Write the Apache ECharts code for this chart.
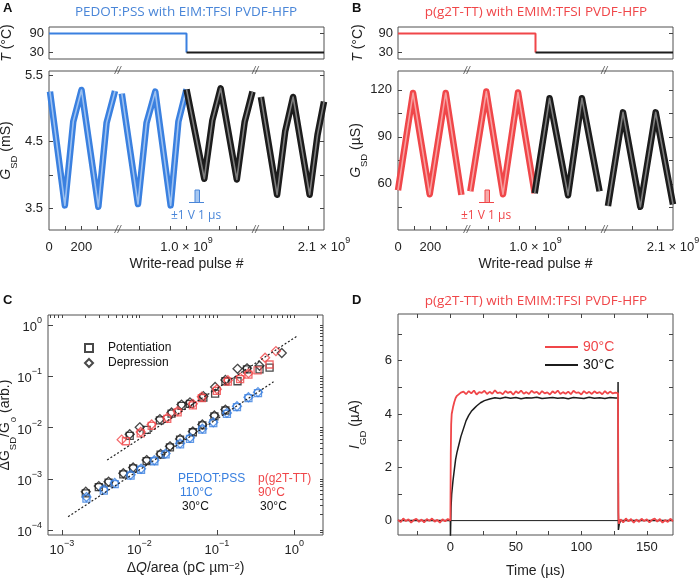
<!DOCTYPE html>
<html>
<head>
<meta charset="utf-8">
<title>Figure</title>
<script src="https://cdn.jsdelivr.net/npm/echarts@6.0.0/dist/echarts.min.js"></script>
<style>
html,body{margin:0;padding:0;background:#fff;}
#chart{width:700px;height:583px;}
</style>
</head>
<body>
<div id="chart"></div>
<script>
// ---------- shared pulse axis for A and B (850 = 1.0e9 pulses, 1700 = 2.1e9 pulses) ----------
const pulseLabelPos = [0, 200, 850, 1700];
const pulseLabelText = ['0', '200', '1.0 × 10^9', '2.1 × 10^9'];
const pulseTickPos = [100, 200, 300, 560, 750, 850, 1050, 1160, 1450, 1600];
const breakPos = [425, 1275];

// ---------- Panel A : PEDOT:PSS ----------
const tempA_hot = [[0, 90], [850, 90], [850, 30]];
const tempA_cold = [[850, 30], [1700, 30]];
const gA_hot_1 = [[6,5.25],[98,3.54],[150,4.80],[201,5.275],[305,3.52],[356,4.78],[408,5.26]];
const gA_hot_2 = [[450,5.22],[550,3.56],[603,4.78],[657,5.25],[752,3.54],[800,4.80],[850,5.285]];
const gA_cold_1 = [[850,5.285],[960,3.94],[1010,4.82],[1061,5.3],[1161,3.93],[1210,4.8],[1258,5.25]];
const gA_cold_2 = [[1310,5.17],[1410,3.7],[1460,4.65],[1509,5.17],[1611,3.7],[1660,4.6],[1700,5.1]];

// ---------- Panel B : p(g2T-TT) ----------
const tempB_hot = [[0, 90], [850, 90], [850, 30]];
const tempB_cold = [[850, 30], [1700, 30]];
const gB_hot_1 = [[0,56],[93,118],[196,53.4],[295,118],[392,53]];
const gB_hot_2 = [[447,55.3],[546,118.9],[649,53.4],[742,118.3],[845,54]];
const gB_cold_1 = [[845,54],[937,114.6],[1051,52.8],[1137,114.6],[1246,55.3]];
const gB_cold_2 = [[1298,45.9],[1391,105.6],[1498,45.4],[1593,105.6],[1700,47]];

// ---------- Panel C : dG/G0 vs dQ/area ----------
const cMajorX = [0.001, 0.01, 0.1, 1];
const cMinorX = [0.0007,0.0008,0.0009,0.002,0.003,0.004,0.005,0.006,0.007,0.008,0.009,
  0.02,0.03,0.04,0.05,0.06,0.07,0.08,0.09,0.2,0.3,0.4,0.5,0.6,0.7,0.8,0.9,2];
const cMajorY = [0.0001, 0.001, 0.01, 0.1, 1];
const cMinorY = [0.00009,0.0002,0.0003,0.0004,0.0005,0.0006,0.0007,0.0008,0.0009,
  0.002,0.003,0.004,0.005,0.006,0.007,0.008,0.009,0.02,0.03,0.04,0.05,0.06,0.07,0.08,0.09,
  0.2,0.3,0.4,0.5,0.6,0.7,0.8,0.9];
const pedot30Pot = [[0.00203,0.00052],[0.00299,0.00069],[0.0040,0.00084],[0.0062,0.00122],[0.0083,0.0016],
  [0.0124,0.00222],[0.0188,0.00296],[0.0248,0.0041],[0.0335,0.0058],[0.049,0.0081],[0.065,0.011],[0.093,0.0165],[0.129,0.0215]];
const pedot30Dep = [[0.00203,0.00056],[0.00299,0.00072],[0.0040,0.00088],[0.0062,0.00128],[0.0083,0.00166],
  [0.0124,0.00232],[0.0188,0.00306],[0.0248,0.0043],[0.0335,0.006],[0.049,0.0084],[0.065,0.0115],[0.093,0.0172],[0.129,0.0224]];
const pedot110Pot = [[0.00207,0.00041],[0.00347,0.00059],[0.0048,0.00079],[0.0077,0.00115],[0.0105,0.0015],
  [0.0156,0.0022],[0.0218,0.003],[0.0335,0.0047],[0.045,0.006],[0.065,0.0091],[0.090,0.0122],[0.135,0.0185],
  [0.182,0.025],[0.256,0.0375],[0.34,0.047]];
const pedot110Dep = [[0.00207,0.00044],[0.00347,0.00062],[0.0048,0.00083],[0.0077,0.0012],[0.0105,0.00157],
  [0.0156,0.0023],[0.0218,0.0031],[0.0335,0.0049],[0.045,0.0063],[0.065,0.0095],[0.090,0.0127],[0.135,0.0193],
  [0.182,0.026],[0.256,0.039],[0.34,0.049]];
const pg90Pot = [[0.0067,0.0054],[0.0104,0.0077],[0.0144,0.0108],[0.0229,0.0148],[0.0312,0.0198],[0.049,0.027],
  [0.064,0.0375],[0.100,0.052],[0.139,0.079],[0.200,0.088],[0.256,0.108],[0.336,0.131],[0.48,0.17]];
const pg90Dep = [[0.0059,0.0058],[0.0104,0.0082],[0.0144,0.0115],[0.0229,0.0155],[0.0312,0.021],[0.049,0.029],
  [0.064,0.040],[0.100,0.056],[0.139,0.084],[0.200,0.094],[0.256,0.115],[0.42,0.23],[0.58,0.31]];
const pg30Pot = [[0.0075,0.0069],[0.0124,0.0090],[0.0184,0.0138],[0.026,0.0187],[0.035,0.0265],[0.045,0.029],
  [0.067,0.0385],[0.095,0.046],[0.129,0.080],[0.185,0.080],[0.245,0.136],[0.356,0.137],[0.48,0.147]];
const pg30Dep = [[0.0075,0.0074],[0.0101,0.0101],[0.0184,0.0146],[0.026,0.0197],[0.035,0.028],[0.045,0.031],
  [0.067,0.041],[0.095,0.062],[0.129,0.085],[0.185,0.14],[0.245,0.143],[0.356,0.16],[0.69,0.285]];
const fitLow = [[0.0012,0.000182],[0.54,0.078]];
const fitHigh = [[0.00383,0.00232],[1.09,0.61]];

// ---------- Panel D : I_GD vs time ----------
const dTickX = [-25,0,25,50,75,100,125,150];
const dLabelX = [0,50,100,150];
const dTickY = [0,1,2,3,4,5,6,7];
const dLabelY = [0,2,4,6];
const trace90 = [[-40,0.03],[-38,-0.06],[-36,0.08],[-34,-0.02],[-32,0.05],[-30,-0.08],[-28,0.02],[-26,0.07],[-24,-0.05],[-22,0.04],
  [-20,-0.07],[-18,0.06],[-16,-0.01],[-14,0.08],[-12,-0.04],[-10,0.03],[-8,-0.08],[-6,0.05],[-4,-0.03],[-2,0.06],
  [0,0.0],[0.3,2.5],[0.6,3.6],[1,4.0],[2,4.25],[3,4.45],[4,4.6],[5,4.68],[6,4.72],[8,4.8],
  [10,4.84],[12,4.74],[14,4.86],[16,4.77],[18,4.88],[20,4.73],[22,4.82],[24,4.79],[26,4.87],[28,4.75],
  [30,4.83],[32,4.76],[34,4.89],[36,4.78],[38,4.81],[40,4.74],[42,4.86],[44,4.79],[46,4.84],[48,4.72],
  [50,4.85],[52,4.78],[54,4.88],[56,4.76],[58,4.82],[60,4.75],[62,4.87],[64,4.79],[66,4.83],[68,4.74],
  [70,4.86],[72,4.77],[74,4.81],[76,4.73],[78,4.85],[80,4.78],[82,4.88],[84,4.75],[86,4.82],[88,4.76],
  [90,4.84],[92,4.74],[94,4.87],[96,4.79],[98,4.81],[100,4.73],[102,4.86],[104,4.77],[106,4.83],[108,4.75],
  [110,4.85],[112,4.78],[114,4.82],[116,4.74],[118,4.86],[120,4.76],[122,4.84],[124,4.77],[126,4.80],
  [128,4.78],[128.3,0.3],[128.6,-0.12],
  [130,0.05],[132,-0.07],[134,0.08],[136,-0.03],[138,0.06],[140,-0.08],[142,0.04],[144,-0.05],[146,0.07],[148,-0.02],
  [150,0.05],[152,-0.07],[154,0.03],[156,0.08],[158,-0.04],[160,0.06],[162,-0.08],[164,0.02],[166,-0.05],[168,0.07],[170,-0.03]];
const trace30 = [[-40,0],[0,0],[0.05,-0.6],[0.5,0.5],[1,1.0],[2,1.5],[3,1.9],[4,2.3],[5,2.55],[6,2.75],[7,2.95],[8,3.15],
  [10,3.45],[12,3.75],[14,3.95],[16,4.1],[18,4.2],[20,4.3],[23,4.42],[26,4.5],[30,4.56],
  [34,4.61],[38,4.58],[42,4.63],[46,4.59],[50,4.62],[54,4.57],[58,4.61],[62,4.6],[66,4.63],[70,4.58],
  [74,4.6],[78,4.62],[82,4.59],[86,4.61],[90,4.57],[94,4.62],[98,4.6],[102,4.58],[106,4.63],[110,4.59],
  [114,4.61],[118,4.58],[122,4.62],[126,4.6],[128,4.6],[128.05,5.2],[128.3,-0.35],[129,-0.12],[130,0],[170,0]];
const zeroRef = [[0,0],[128,0]];

// ---------- styling ----------
const FONT = 'Liberation Sans, Arial, sans-serif';
const TFONT = 'Open Sans, Noto Sans, sans-serif';
const BLUE = '#3a80e0', BLUE_L = '#a7c8f2', BLUE_T = '#4a86d8';
const RED = '#f04649', RED_L = '#f7aaaa';
const BLK = '#1c1c1c', BLK_L = '#8a8a8a';
const AX = '#444';

const RICH = {
  n: {fontSize: 13, fontFamily: FONT, color: '#222', lineHeight: 18, verticalAlign: 'bottom'},
  sup: {fontSize: 9, fontFamily: FONT, color: '#222', verticalAlign: 'top'},
};
const NRICH = {
  n: {fontSize: 14, fontFamily: FONT, color: '#222', lineHeight: 20, verticalAlign: 'top'},
  i: {fontSize: 14, fontFamily: FONT, fontStyle: 'italic', color: '#222', lineHeight: 20, verticalAlign: 'top'},
  sub: {fontSize: 9.5, fontFamily: FONT, color: '#222', verticalAlign: 'bottom'},
  sup: {fontSize: 9.5, fontFamily: FONT, color: '#222', verticalAlign: 'top'},
};
function supFmt(s) {
  const k = s.indexOf('^');
  return k < 0 ? '{n|' + s + '}' : '{n|' + s.slice(0, k) + '}{sup|' + s.slice(k + 1) + '}';
}
function pulseFmt(v) {
  const i = pulseLabelPos.indexOf(v);
  return i < 0 ? '' : supFmt(pulseLabelText[i]);
}
function logFmt(v) {
  const e = Math.round(Math.log10(v));
  return '{n|10}{sup|' + (e < 0 ? '\u2212' + (-e) : String(e)) + '}';
}
const noLine = {show: false, onZero: false};
function tick(vals, len) {
  return {show: true, inside: true, length: len || 4, customValues: vals, lineStyle: {color: AX, width: 1}};
}

function gridBox(left, top, width, height) {
  return {left, top, width, height, show: true, borderColor: '#505050', borderWidth: 1,
    backgroundColor: 'transparent', containLabel: false, outerBoundsMode: 'none'};
}

const xAxes = [
  // 0 A-T
  {gridIndex: 0, type: 'value', min: 0, max: 1700, axisLine: noLine, axisTick: {show: false}, axisLabel: {show: false}, splitLine: {show: false}},
  // 1 A-G
  {gridIndex: 1, type: 'value', min: 0, max: 1700, axisLine: noLine, splitLine: {show: false},
    axisTick: tick(pulseTickPos),
    axisLabel: {customValues: pulseLabelPos, formatter: pulseFmt, rich: RICH, margin: 6},
    name: 'Write-read pulse #', nameLocation: 'middle', nameGap: 27, nameMoveOverlap: false,
    nameTextStyle: {fontFamily: FONT, fontSize: 14, color: '#222'}},
  // 2 B-T
  {gridIndex: 2, type: 'value', min: 0, max: 1700, axisLine: noLine, axisTick: {show: false}, axisLabel: {show: false}, splitLine: {show: false}},
  // 3 B-G
  {gridIndex: 3, type: 'value', min: 0, max: 1700, axisLine: noLine, splitLine: {show: false},
    axisTick: tick(pulseTickPos),
    axisLabel: {customValues: pulseLabelPos, formatter: pulseFmt, rich: RICH, margin: 6},
    name: 'Write-read pulse #', nameLocation: 'middle', nameGap: 27, nameMoveOverlap: false,
    nameTextStyle: {fontFamily: FONT, fontSize: 14, color: '#222'}},
  // 4 C bottom major
  {gridIndex: 4, type: 'log', logBase: 10, min: 0.00066, max: 2.35, axisLine: noLine, splitLine: {show: false},
    axisTick: tick(cMajorX, 5), axisLabel: {customValues: cMajorX, formatter: logFmt, rich: RICH, margin: 4},
    name: '{n|\u0394}{i|Q}{n|/area (pC \u00b5m}{sup|\u22122}{n|)}', nameLocation: 'middle', nameGap: 26, nameMoveOverlap: false,
    nameTextStyle: {rich: NRICH}},
  // 5 C bottom minor
  {gridIndex: 4, type: 'log', logBase: 10, min: 0.00066, max: 2.35, axisLine: noLine, splitLine: {show: false},
    axisTick: tick(cMinorX, 2.5), axisLabel: {show: false}},
  // 6 C top
  {gridIndex: 4, type: 'log', logBase: 10, position: 'top', min: 0.00066, max: 2.35, axisLine: noLine, splitLine: {show: false},
    axisTick: tick(cMajorX.concat(cMinorX), 3), axisLabel: {show: false}},
  // 7 D bottom
  {gridIndex: 5, type: 'value', min: -40, max: 170, axisLine: noLine, splitLine: {show: false},
    axisTick: tick(dTickX), axisLabel: {customValues: dLabelX, fontFamily: FONT, fontSize: 13, color: '#222', margin: 6},
    name: 'Time (\u00b5s)', nameLocation: 'middle', nameGap: 29, nameMoveOverlap: false,
    nameTextStyle: {fontFamily: FONT, fontSize: 14, color: '#222'}},
  // 8 D top
  {gridIndex: 5, type: 'value', position: 'top', min: -40, max: 170, axisLine: noLine, splitLine: {show: false},
    axisTick: tick(dTickX), axisLabel: {show: false}},
];

const tLabelColorA = v => (v === 90 ? BLUE : '#222');
const tLabelColorB = v => (v === 90 ? RED : '#222');

const yAxes = [
  // 0 A-T left
  {gridIndex: 0, type: 'value', min: 9, max: 111, axisLine: noLine, splitLine: {show: false},
    axisTick: tick([30, 90]), axisLabel: {customValues: [30, 90], color: tLabelColorA, fontFamily: FONT, fontSize: 13, margin: 5},
    name: '{i|T}{n| (\u00b0C)}', nameLocation: 'middle', nameGap: 29, nameMoveOverlap: false, nameTextStyle: {rich: NRICH}},
  // 1 A-T right
  {gridIndex: 0, type: 'value', position: 'right', min: 9, max: 111, axisLine: noLine, splitLine: {show: false},
    axisTick: tick([30, 90]), axisLabel: {show: false}},
  // 2 A-G left
  {gridIndex: 1, type: 'value', min: 3.17, max: 5.56, axisLine: noLine, splitLine: {show: false},
    axisTick: tick([3.5, 4, 4.5, 5, 5.5]), axisLabel: {customValues: [3.5, 4.5, 5.5], fontFamily: FONT, fontSize: 13, color: '#222', margin: 6},
    name: '{i|G}{sub|SD}{n| (mS)}', nameLocation: 'middle', nameGap: 30, nameMoveOverlap: false, nameTextStyle: {rich: NRICH}},
  // 3 A-G right
  {gridIndex: 1, type: 'value', position: 'right', min: 3.17, max: 5.56, axisLine: noLine, splitLine: {show: false},
    axisTick: tick([3.5, 4, 4.5, 5, 5.5]), axisLabel: {show: false}},
  // 4 B-T left
  {gridIndex: 2, type: 'value', min: 9, max: 111, axisLine: noLine, splitLine: {show: false},
    axisTick: tick([30, 90]), axisLabel: {customValues: [30, 90], color: tLabelColorB, fontFamily: FONT, fontSize: 13, margin: 5},
    name: '{i|T}{n| (\u00b0C)}', nameLocation: 'middle', nameGap: 27, nameMoveOverlap: false, nameTextStyle: {rich: NRICH}},
  // 5 B-T right
  {gridIndex: 2, type: 'value', position: 'right', min: 9, max: 111, axisLine: noLine, splitLine: {show: false},
    axisTick: tick([30, 90]), axisLabel: {show: false}},
  // 6 B-G left
  {gridIndex: 3, type: 'value', min: 30.6, max: 132, axisLine: noLine, splitLine: {show: false},
    axisTick: tick([45, 60, 75, 90, 105, 120]), axisLabel: {customValues: [60, 90, 120], fontFamily: FONT, fontSize: 13, color: '#222', margin: 6},
    name: '{i|G}{sub|SD}{n| (\u00b5S)}', nameLocation: 'middle', nameGap: 29, nameMoveOverlap: false, nameTextStyle: {rich: NRICH}},
  // 7 B-G right
  {gridIndex: 3, type: 'value', position: 'right', min: 30.6, max: 132, axisLine: noLine, splitLine: {show: false},
    axisTick: tick([45, 60, 75, 90, 105, 120]), axisLabel: {show: false}},
  // 8 C left major
  {gridIndex: 4, type: 'log', logBase: 10, min: 0.00008, max: 1.57, axisLine: noLine, splitLine: {show: false},
    axisTick: tick(cMajorY, 5), axisLabel: {customValues: cMajorY, formatter: logFmt, rich: RICH, margin: 6},
    name: '{n|\u0394G}{sub|SD}{n|/G}{sub|o}{n| (arb.)}', nameLocation: 'middle', nameGap: 30, nameMoveOverlap: false, nameTextStyle: {rich: NRICH}},
  // 9 C left minor
  {gridIndex: 4, type: 'log', logBase: 10, min: 0.00008, max: 1.57, axisLine: noLine, splitLine: {show: false},
    axisTick: tick(cMinorY, 2.5), axisLabel: {show: false}},
  // 10 C right
  {gridIndex: 4, type: 'log', logBase: 10, position: 'right', min: 0.00008, max: 1.57, axisLine: noLine, splitLine: {show: false},
    axisTick: tick(cMajorY.concat(cMinorY), 3), axisLabel: {show: false}},
  // 11 D left
  {gridIndex: 5, type: 'value', min: -0.54, max: 7.75, axisLine: noLine, splitLine: {show: false},
    axisTick: tick(dTickY), axisLabel: {customValues: dLabelY, fontFamily: FONT, fontSize: 13, color: '#222', margin: 6},
    name: '{i|I}{sub|GD}{n| (\u00b5A)}', nameLocation: 'middle', nameGap: 30, nameMoveOverlap: false, nameTextStyle: {rich: NRICH}},
  // 12 D right
  {gridIndex: 5, type: 'value', position: 'right', min: -0.54, max: 7.75, axisLine: noLine, splitLine: {show: false},
    axisTick: tick(dTickY), axisLabel: {show: false}},
];

function band(data, xi, yi, outer, inner, z) {
  return [
    {type: 'line', xAxisIndex: xi, yAxisIndex: yi, data, showSymbol: false, silent: true, z: z,
      lineStyle: {color: outer, width: 6.5, join: 'round', cap: 'butt'}},
    {type: 'line', xAxisIndex: xi, yAxisIndex: yi, data, showSymbol: false, silent: true, z: z + 1,
      lineStyle: {color: inner, width: 1.6, join: 'round', cap: 'butt', opacity: 0.9}},
  ];
}
function breaks(xi, yi, ymin, ymax) {
  return {type: 'scatter', xAxisIndex: xi, yAxisIndex: yi, symbolSize: 1, itemStyle: {color: 'transparent'},
    silent: true, z: 20,
    data: breakPos.map(b => [b, ymin]).concat(breakPos.map(b => [b, ymax])),
    label: {show: true, position: 'inside', formatter: '//', fontFamily: FONT, fontSize: 11, fontStyle: 'italic', color: '#333'}};
}
function marker(name, data, symbol, color, size, z) {
  return {type: 'scatter', name, xAxisIndex: 4, yAxisIndex: 8, data, symbol, symbolSize: size, z: z || 3,
    itemStyle: {color: 'rgba(255,255,255,0)', borderColor: color, borderWidth: 1.3}};
}

const series = [
  // Panel A
  {type: 'line', xAxisIndex: 0, yAxisIndex: 0, data: tempA_hot, showSymbol: false, lineStyle: {color: BLUE, width: 2}},
  {type: 'line', xAxisIndex: 0, yAxisIndex: 0, data: tempA_cold, showSymbol: false, lineStyle: {color: BLK, width: 2}},
  ...band(gA_hot_1, 1, 2, BLUE, BLUE_L, 3),
  ...band(gA_hot_2, 1, 2, BLUE, BLUE_L, 3),
  ...band(gA_cold_1, 1, 2, BLK, BLK_L, 5),
  ...band(gA_cold_2, 1, 2, BLK, BLK_L, 5),
  breaks(1, 2, 3.17, 5.56),
  // Panel B
  {type: 'line', xAxisIndex: 2, yAxisIndex: 4, data: tempB_hot, showSymbol: false, lineStyle: {color: RED, width: 2}},
  {type: 'line', xAxisIndex: 2, yAxisIndex: 4, data: tempB_cold, showSymbol: false, lineStyle: {color: BLK, width: 2}},
  ...band(gB_hot_1, 3, 6, RED, RED_L, 3),
  ...band(gB_hot_2, 3, 6, RED, RED_L, 3),
  ...band(gB_cold_1, 3, 6, BLK, BLK_L, 5),
  ...band(gB_cold_2, 3, 6, BLK, BLK_L, 5),
  breaks(3, 6, 30.6, 132),
  // Panel C
  marker('Potentiation', pedot30Pot, 'rect', BLK, 7),
  marker('Depression', pedot30Dep, 'diamond', BLK, 9),
  marker('PEDOT:PSS 110 potentiation', pedot110Pot, 'rect', BLUE, 7, 4),
  marker('PEDOT:PSS 110 depression', pedot110Dep, 'diamond', BLUE, 9, 4),
  marker('p(g2T-TT) 30 potentiation', pg30Pot, 'rect', BLK, 7),
  marker('p(g2T-TT) 30 depression', pg30Dep, 'diamond', BLK, 9),
  marker('p(g2T-TT) 90 potentiation', pg90Pot, 'rect', RED, 7, 4),
  marker('p(g2T-TT) 90 depression', pg90Dep, 'diamond', RED, 9, 4),
  {type: 'line', xAxisIndex: 4, yAxisIndex: 8, data: fitLow, showSymbol: false, z: 6,
    lineStyle: {color: '#222', width: 1.2, type: [2, 2]}},
  {type: 'line', xAxisIndex: 4, yAxisIndex: 8, data: fitHigh, showSymbol: false, z: 6,
    lineStyle: {color: '#222', width: 1.2, type: [2, 2]}},
  // Panel D
  {type: 'line', xAxisIndex: 7, yAxisIndex: 11, data: zeroRef, showSymbol: false, z: 2, lineStyle: {color: BLK, width: 1}},
  {type: 'line', name: '30\u00b0C', xAxisIndex: 7, yAxisIndex: 11, data: trace30, showSymbol: false, z: 3, lineStyle: {color: BLK, width: 1.5}, itemStyle: {color: BLK}},
  {type: 'line', name: '90\u00b0C', xAxisIndex: 7, yAxisIndex: 11, data: trace90, showSymbol: false, z: 4, lineStyle: {color: RED, width: 1.8}, itemStyle: {color: RED}},
];

function txt(x, y, text, color, size, family, align, weight) {
  return {type: 'text', x, y, silent: true,
    style: {text, fill: color, fontSize: size, fontFamily: family || FONT, fontWeight: weight || 'normal',
      align: align || 'left', verticalAlign: 'middle'}};
}

const graphic = [
  txt(3, 8, 'A', '#111', 13, FONT, 'left', 'bold'),
  txt(352, 8, 'B', '#111', 13, FONT, 'left', 'bold'),
  txt(3, 300, 'C', '#111', 13, FONT, 'left', 'bold'),
  txt(352, 300, 'D', '#111', 13, FONT, 'left', 'bold'),
  txt(186, 12, 'PEDOT:PSS with EIM:TFSI PVDF-HFP', BLUE_T, 13.5, TFONT, 'center'),
  txt(536, 12, 'p(g2T-TT) with EMIM:TFSI PVDF-HFP', RED, 13.5, TFONT, 'center'),
  txt(536, 301, 'p(g2T-TT) with EMIM:TFSI PVDF-HFP', RED, 13.5, TFONT, 'center'),
  // pulse glyphs
  {type: 'rect', silent: true, shape: {x: 195, y: 190, width: 4.5, height: 12.5}, style: {fill: BLUE_L, stroke: BLUE_T, lineWidth: 1}},
  {type: 'polyline', silent: true, shape: {points: [[189, 202.5], [204, 202.5]]}, style: {stroke: BLUE_T, lineWidth: 1}},
  txt(196, 216, '\u00b11 V 1 \u00b5s', BLUE_T, 12, TFONT, 'center'),
  {type: 'rect', silent: true, shape: {x: 485, y: 190, width: 4.5, height: 12.5}, style: {fill: RED_L, stroke: RED, lineWidth: 1}},
  {type: 'polyline', silent: true, shape: {points: [[479, 202.5], [494, 202.5]]}, style: {stroke: RED, lineWidth: 1}},
  txt(486, 216, '\u00b11 V 1 \u00b5s', RED, 12, TFONT, 'center'),
  // panel C annotations
  txt(178, 479, 'PEDOT:PSS', BLUE, 12),
  txt(180, 493, '110\u00b0C', BLUE, 12),
  txt(182, 507, '30\u00b0C', '#111', 12),
  txt(258, 479, 'p(g2T-TT)', RED, 12),
  txt(258, 493, '90\u00b0C', RED, 12),
  txt(260, 507, '30\u00b0C', '#111', 12),
];

const option = {
  animation: false,
  backgroundColor: '#fff',
  grid: [gridBox(49, 27, 275, 32), gridBox(49, 71, 275, 159), gridBox(398, 27, 275, 32), gridBox(398, 71, 275, 159),
    gridBox(48, 315, 275, 220), gridBox(398, 314, 275, 221)],
  xAxis: xAxes,
  yAxis: yAxes,
  legend: [
    {orient: 'vertical', left: 79, top: 337, itemWidth: 8, itemHeight: 8, itemGap: 3, selectedMode: false,
      textStyle: {fontFamily: FONT, fontSize: 12, color: '#111', padding: [0, 0, 0, 10]},
      data: [{name: 'Potentiation', icon: 'rect'}, {name: 'Depression', icon: 'diamond'}]},
    {orient: 'vertical', left: 540, top: 335, itemWidth: 33, itemHeight: 2, itemGap: 4, selectedMode: false,
      textStyle: {fontFamily: FONT, fontSize: 14},
      data: [{name: '90\u00b0C', icon: 'rect', textStyle: {color: RED}}, {name: '30\u00b0C', icon: 'rect', textStyle: {color: '#111'}}]},
  ],
  graphic,
  series,
};

const chart = echarts.init(document.getElementById('chart'), null, {renderer: 'canvas'});
chart.setOption(option);
</script>
</body>
</html>
